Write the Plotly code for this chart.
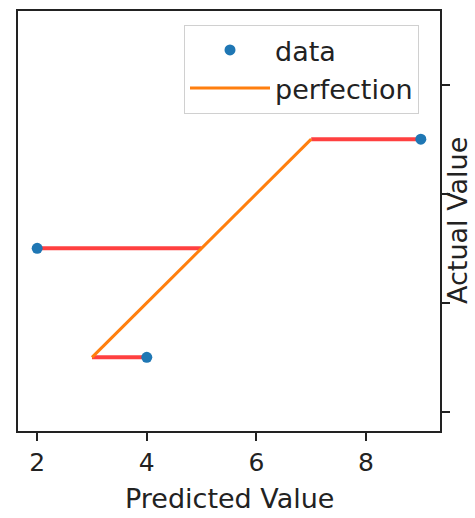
import plotly.graph_objects as go

predicted = [2, 4, 9]
actual = [5, 3, 7]
perfect_x = [3, 7]
perfect_y = [3, 7]
x_ticks = [2, 4, 6, 8]
y_ticks = [2, 4, 6, 8]
axis_range = [1.65, 9.35]

FONT = "DejaVu Sans"
W, H = 475, 518
L, T = 18, 9
R = W - 440
B = H - 431
PW, PH = W - L - R, H - T - B

fig = go.Figure()

# residual lines: from each data point horizontally to the perfection line (y = x)
for px, ay in zip(predicted, actual):
    fig.add_trace(go.Scatter(x=[px, ay], y=[ay, ay], mode="lines",
                             line=dict(color="rgba(255,0,0,0.75)", width=4),
                             showlegend=False, hoverinfo="skip"))

fig.add_trace(go.Scatter(x=predicted, y=actual, mode="markers", name="data",
                         marker=dict(color="#1f77b4", size=11)))
fig.add_trace(go.Scatter(x=perfect_x, y=perfect_y, mode="lines", name="perfection",
                         line=dict(color="#ff7f0e", width=3)))

axis_common = dict(range=axis_range, showgrid=False, zeroline=False,
                   showline=True, linecolor="#222", linewidth=2, mirror=True,
                   ticks="outside", ticklen=8, tickwidth=1.5, tickcolor="#222")

fig.update_xaxes(tickvals=x_ticks, tickfont=dict(family=FONT, size=25, color="#222"),
                 **axis_common)
fig.update_yaxes(tickvals=y_ticks, side="right", showticklabels=False, **axis_common)

def px_x(x):
    return (x - L) / PW

def px_y(y):
    return 1 - (y - T) / PH

fig.add_annotation(text="Predicted Value", xref="paper", yref="paper",
                   x=0.5, y=px_y(499), xanchor="center", yanchor="middle", showarrow=False,
                   font=dict(family=FONT, size=27, color="#222"))
fig.add_annotation(text="Actual Value", xref="paper", yref="paper",
                   x=px_x(457), y=0.5, textangle=-90,
                   xanchor="center", yanchor="middle", showarrow=False,
                   font=dict(family=FONT, size=27, color="#222"))

fig.update_layout(
    width=W, height=H, autosize=False,
    margin=dict(l=L, r=R, t=T, b=B),
    plot_bgcolor="white", paper_bgcolor="white",
    font=dict(family=FONT, color="#222"),
    legend=dict(x=px_x(184), y=px_y(23),
                xanchor="left", yanchor="top",
                bordercolor="#d0d0d0", borderwidth=1, bgcolor="rgba(255,255,255,0.8)",
                font=dict(family=FONT, size=27, color="#222"),
                itemwidth=80, tracegroupgap=0),
)

fig.write_html("out.html",
               config={"displayModeBar": False},
               post_script="document.body.style.margin='0';document.body.style.overflow='hidden';")
